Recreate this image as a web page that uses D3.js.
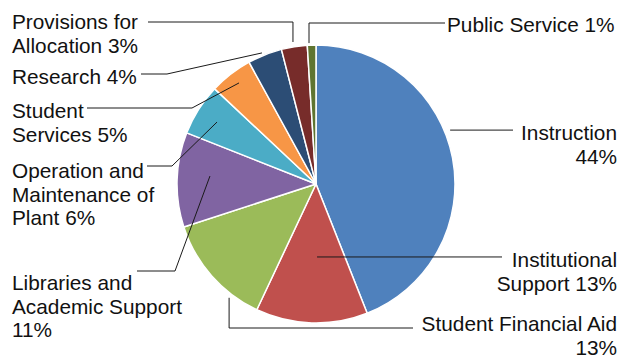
<!DOCTYPE html>
<html>
<head>
<meta charset="utf-8">
<script src="https://cdn.jsdelivr.net/npm/d3@7"></script>
<style>
  html, body { margin: 0; padding: 0; background: #fff; }
  svg { display: block; }
  text { font-family: "Liberation Sans", Arial, sans-serif; font-size: 20.8px; fill: #111; }
</style>
</head>
<body>
<svg id="chart" width="621" height="358"></svg>
<script>
// Expenditure categories and their percentage shares, clockwise from 12 o'clock
const categories = [
  "Instruction",
  "Institutional Support",
  "Student Financial Aid",
  "Libraries and Academic Support",
  "Operation and Maintenance of Plant",
  "Student Services",
  "Research",
  "Provisions for Allocation",
  "Public Service"
];
const shares = [44, 13, 13, 11, 6, 5, 4, 3, 1];
const sliceColors = ["#4F81BD", "#C0504D", "#9BBB59", "#8064A2", "#4BACC6",
                     "#F79646", "#2C4D75", "#772C2A", "#5F7530"];
// Label text rows; "{p}" is replaced by the slice's percentage
const labelRows = [
  ["Instruction", "{p}"],
  ["Institutional", "Support {p}"],
  ["Student Financial Aid", "{p}"],
  ["Libraries and", "Academic Support", "{p}"],
  ["Operation and", "Maintenance of", "Plant {p}"],
  ["Student", "Services {p}"],
  ["Research {p}"],
  ["Provisions for", "Allocation {p}"],
  ["Public Service {p}"]
];

// Label placement: anchor on the slice (fraction along its angle, fraction of radius),
// leader shape, label-side line end and text block position
const labelLayout = [
  { frac: 0.43,  rf: 1.04,  kind: "h",    lineX: 513, tx: 617, ty: 140, anchor: "end" },
  { frac: 0.444, rf: 0.525, kind: "h",    lineX: 502, tx: 617, ty: 267, anchor: "end" },
  { frac: 0.26,  rf: 1.03,  kind: "v",    lineY: 328, lineX: 413, tx: 617, ty: 331, anchor: "end" },
  { frac: 0.563, rf: 0.765, kind: "d",    lineY: 271, elbowX: 175, lineX: 137, tx: 12, ty: 290, anchor: "start" },
  { frac: 0.484, rf: 0.84,  kind: "d",    lineY: 166, elbowX: 172, lineX: 147, tx: 12, ty: 178, anchor: "start" },
  { frac: 0.528, rf: 0.914, kind: "d",    lineY: 108, elbowX: 192, lineX: 87,  tx: 12, ty: 118, anchor: "start" },
  { frac: 0.444, rf: 1.02,  kind: "d",    lineY: 74,  elbowX: 167, lineX: 141, tx: 12, ty: 84,  anchor: "start" },
  { frac: 0.48,  rf: 1.035, kind: "v",    lineY: 22,  lineX: 148, tx: 12, ty: 29,  anchor: "start" },
  { frac: 0.21,  rf: 1.015, kind: "v",    lineY: 23,  lineX: 445, tx: 447, ty: 32, anchor: "start" }
];

const svg = d3.select("#chart");
const cx = 316, cy = 184, R = 139, lineHeight = 23.5;

const pie = d3.pie().sort(null).value(d => d.value);
const arcs = pie(categories.map((c, i) => ({ name: c, value: shares[i], i })));
const arc = d3.arc().innerRadius(0).outerRadius(R);

const g = svg.append("g").attr("transform", `translate(${cx},${cy})`);
g.selectAll("path.slice")
  .data(arcs)
  .join("path")
  .attr("class", "slice")
  .attr("d", arc)
  .attr("fill", d => sliceColors[d.data.i])
  .attr("stroke", "#fff")
  .attr("stroke-width", 1.5)
  .attr("stroke-linejoin", "round");

// Leader lines
function anchorPoint(a, lay) {
  const ang = a.startAngle + (a.endAngle - a.startAngle) * lay.frac;
  const r = R * lay.rf;
  return [cx + r * Math.sin(ang), cy - r * Math.cos(ang)];
}

const line = d3.line();
arcs.forEach((a, i) => {
  const lay = labelLayout[i];
  const [ax, ay] = anchorPoint(a, lay);
  let pts;
  if (lay.kind === "h") pts = [[lay.lineX, ay], [ax, ay]];
  else if (lay.kind === "v") pts = [[lay.lineX, lay.lineY], [ax, lay.lineY], [ax, ay]];
  else pts = [[lay.lineX, lay.lineY], [lay.elbowX, lay.lineY], [ax, ay]];
  svg.append("path")
    .attr("d", line(pts))
    .attr("fill", "none")
    .attr("stroke", "#1a1a1a")
    .attr("stroke-width", 1);
});

// Labels
arcs.forEach((a, i) => {
  const lay = labelLayout[i];
  const t = svg.append("text")
    .attr("text-anchor", lay.anchor);
  labelRows[i].forEach((row, k) => {
    t.append("tspan")
      .attr("x", lay.tx)
      .attr("y", lay.ty + k * lineHeight)
      .text(row.replace("{p}", shares[i] + "%"));
  });
});
</script>
</body>
</html>
